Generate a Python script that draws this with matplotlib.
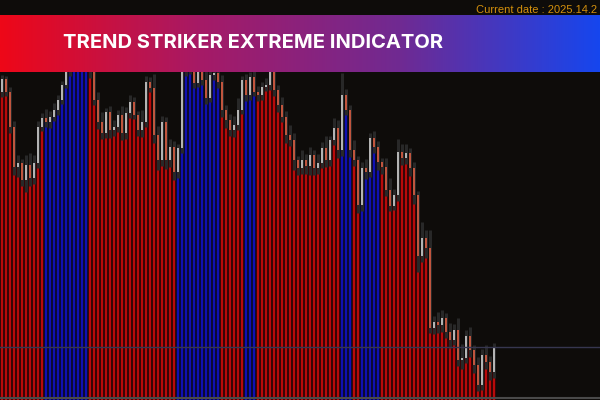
import numpy as np
import matplotlib.pyplot as plt
from matplotlib.colors import LinearSegmentedColormap

title = "TREND STRIKER EXTREME INDICATOR"
date_label = "Current date : 2025.14.2"

# close prices, one per bar (open = previous close)
first_open = 308
closes = [321, 308, 273, 233, 237, 220, 235, 222, 237, 273,
          282, 278, 283, 290, 300, 315, 328, 338, 345, 350,
          345, 340, 328, 300, 278, 267, 288, 270, 273, 285,
          267, 287, 298, 285, 270, 278, 318, 312, 265, 240,
          278, 240, 253, 228, 252, 328, 335, 332, 317, 328,
          320, 302, 325, 327, 318, 290, 280, 270, 275, 290,
          320, 305, 323, 308, 305, 313, 315, 328, 310, 295,
          283, 265, 260, 240, 232, 240, 234, 245, 232, 237,
          252, 240, 260, 272, 250, 305, 290, 250, 240, 195,
          232, 228, 262, 253, 238, 233, 210, 194, 205, 248,
          242, 247, 232, 205, 144, 162, 152, 72, 78, 75,
          82, 68, 60, 70, 40, 42, 64, 50, 35, 15,
          45, 38, 28, 52]

wick_up = [4, 3, 5, 6, 8, 4, 10, 12, 8, 6,
           5, 9, 6, 7, 5, 4, 6, 5, 4, 5,
           6, 4, 5, 6, 8, 10, 4, 6, 7, 5,
           9, 6, 7, 5, 4, 12, 6, 5, 14, 9,
           6, 5, 8, 6, 4, 5, 6, 7, 5, 4,
           6, 9, 5, 6, 4, 7, 5, 6, 9, 12,
           4, 6, 5, 9, 6, 5, 7, 4, 6, 5,
           8, 6, 10, 7, 4, 10, 6, 8, 5, 9,
           6, 12, 4, 10, 8, 22, 6, 5, 10, 4,
           6, 9, 5, 7, 6, 4, 9, 12, 6, 13,
           8, 9, 5, 6, 4, 16, 8, 18, 6, 10,
           8, 5, 9, 6, 12, 14, 6, 9, 5, 8,
           6, 10, 6, 5]

wick_dn = [5, 4, 6, 8, 10, 6, 12, 8, 6, 5,
           4, 5, 6, 4, 5, 4, 3, 4, 3, 4,
           5, 4, 6, 5, 7, 6, 5, 8, 6, 5,
           7, 6, 5, 4, 6, 7, 5, 4, 8, 10,
           6, 9, 7, 8, 6, 5, 4, 6, 5, 4,
           5, 6, 4, 5, 6, 7, 8, 6, 7, 5,
           4, 6, 5, 4, 6, 5, 4, 5, 6, 7,
           5, 8, 6, 10, 7, 6, 8, 9, 7, 6,
           5, 7, 6, 5, 8, 6, 5, 7, 6, 8,
           6, 7, 5, 6, 8, 7, 6, 5, 4, 6,
           7, 6, 8, 9, 16, 6, 10, 5, 6, 8,
           7, 6, 8, 5, 6, 9, 5, 7, 8, 6,
           5, 7, 8, 6]

# trend of the indicator: R = bearish (red), B = bullish (blue)
trend_runs = [("R", 11), ("B", 11), ("R", 22), ("B", 11), ("R", 6), ("B", 3),
              ("R", 21), ("B", 3), ("R", 2), ("B", 5), ("R", 29)]

level_line = 53

trend = "".join(t * k for t, k in trend_runs)
n = len(closes)
x = np.arange(n)
opens = np.array([first_open] + closes[:-1])
closes = np.array(closes)
lo = np.minimum(opens, closes)
hi = np.maximum(opens, closes)

bg = "#0e0c0a"
fig = plt.figure(figsize=(6, 4), dpi=100, facecolor=bg)
ax = fig.add_axes([0, 0, 1, 1], facecolor=bg)
ax.set_xlim(-0.5, 149.5)
ax.set_ylim(0, 400)
ax.axis("off")

dark = ["#380505" if t == "R" else "#0b0a34" for t in trend]
bright = ["#b80a0a" if t == "R" else "#1010b2" for t in trend]
ax.bar(x, lo, width=0.92, color=dark, zorder=1)
ax.bar(x, lo, width=0.28, color=bright, zorder=2)

ax.vlines(x, lo - np.array(wick_dn), hi + np.array(wick_up),
          color="#282828", lw=2.2, zorder=3)
body_col = ["#b4b4b4" if c > o else "#c0553e" for o, c in zip(opens, closes)]
ax.bar(x, np.maximum(hi - lo, 1.5), bottom=lo, width=0.66, color=body_col, zorder=4)

ax.axhline(level_line, color="#36364f", lw=1, zorder=5)
ax.axhline(2, color="#4a4a4a", lw=1.5, zorder=5)

# banner
bax = fig.add_axes([0, 0.82, 1, 0.1425])
cmap = LinearSegmentedColormap.from_list("banner", ["#ee0718", "#a61a66", "#702a92", "#1646ee"])
bax.imshow(np.linspace(0, 1, 256).reshape(1, -1), cmap=cmap, aspect="auto",
           extent=[0, 1, 0, 1])
bax.axis("off")
bax.text(0.422, 0.5, title, color="white", fontsize=14.5, fontweight="bold",
         family="Inter", ha="center", va="center")

fig.text(0.995, 0.975, date_label, color="#d4900c", fontsize=8,
         family="Liberation Sans", ha="right", va="center")

fig.savefig("out.png", dpi=100, facecolor=bg)
